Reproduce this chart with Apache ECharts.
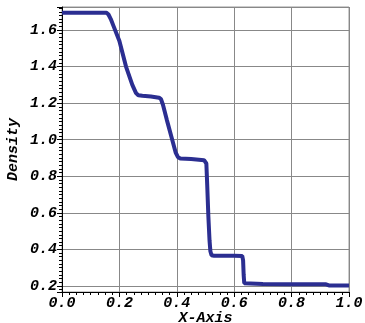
<!DOCTYPE html>
<html><head><meta charset="utf-8">
<script src="https://cdn.jsdelivr.net/npm/echarts@6/dist/echarts.min.js"></script>
<style>html,body{margin:0;padding:0;background:#fff}#c{width:365px;height:323px}</style>
</head><body><div id="c"></div>
<script>
const xValues = [0, 0.155, 0.162, 0.17, 0.18, 0.2, 0.223, 0.245, 0.258, 0.266, 0.28, 0.31, 0.338, 0.345, 0.352, 0.365, 0.384, 0.396, 0.404, 0.412, 0.45, 0.495, 0.503, 0.506, 0.51, 0.514, 0.517, 0.521, 0.53, 0.6, 0.628, 0.631, 0.633, 0.635, 0.64, 0.7, 0.8, 0.92, 0.93, 1.0];
const densityValues = [1.695, 1.695, 1.685, 1.66, 1.62, 1.54, 1.4, 1.3, 1.255, 1.243, 1.24, 1.236, 1.23, 1.222, 1.19, 1.11, 1.0, 0.93, 0.905, 0.897, 0.894, 0.888, 0.87, 0.75, 0.58, 0.45, 0.39, 0.368, 0.365, 0.365, 0.364, 0.34, 0.26, 0.215, 0.211, 0.211, 0.21, 0.209, 0.203, 0.202];
const xTickLabels = ['0.0','0.2','0.4','0.6','0.8','1.0'];
const yTickLabels = ['0.2','0.4','0.6','0.8','1.0','1.2','1.4','1.6'];

const fontFam = '"Liberation Mono", "DejaVu Sans Mono", monospace';
const chart = echarts.init(document.getElementById('c'), null, {renderer: 'canvas'});
chart.setOption({
  animation: false,
  grid: {left: 62, right: 16, top: 7, bottom: 31, show: true, borderColor: '#999', borderWidth: 1, containLabel: false, outerBoundsMode: 'none'},
  xAxis: {
    type: 'value', min: 0, max: 1, interval: 0.2,
    name: 'X-Axis', nameLocation: 'middle', nameGap: 19, nameMoveOverlap: false,
    nameTextStyle: {fontFamily: fontFam, fontStyle: 'italic', fontWeight: 'bold', fontSize: 15, color: '#000'},
    axisLine: {show: true, lineStyle: {color: '#000', width: 1}},
    axisTick: {show: true, inside: false, length: 5, lineStyle: {color: '#000'}},
    minorTick: {show: true, splitNumber: 8, length: 3, lineStyle: {color: '#000'}},
    axisLabel: {fontFamily: fontFam, fontStyle: 'italic', fontWeight: 'bold', fontSize: 15, color: '#000', margin: 4,
      formatter: v => xTickLabels[Math.round(v / 0.2)] || ''},
    splitLine: {show: true, lineStyle: {color: '#888', width: 1}}
  },
  yAxis: {
    type: 'value', min: 0.167, max: 1.726, splitNumber: 7, minInterval: 0.2, maxInterval: 0.2,
    name: 'Density', nameLocation: 'middle', nameGap: 41, nameRotate: 90, nameMoveOverlap: false,
    nameTextStyle: {fontFamily: fontFam, fontStyle: 'italic', fontWeight: 'bold', fontSize: 15, color: '#000'},
    axisLine: {show: true, lineStyle: {color: '#000', width: 1}},
    axisTick: {show: true, inside: false, length: 5, lineStyle: {color: '#000'}},
    minorTick: {show: true, splitNumber: 10, length: 3, lineStyle: {color: '#000'}},
    axisLabel: {fontFamily: fontFam, fontStyle: 'italic', fontWeight: 'bold', fontSize: 15, color: '#000', margin: 5,
      showMinLabel: false, showMaxLabel: false,
      formatter: v => { const i = Math.round((v - 0.2) / 0.2); return (Math.abs(v - (0.2 + i * 0.2)) < 1e-6) ? (yTickLabels[i] || '') : ''; }},
    splitLine: {show: true, lineStyle: {color: '#888', width: 1}}
  },
  series: [{
    type: 'line', showSymbol: false, symbol: 'none',
    data: xValues.map((x, i) => [x, densityValues[i]]),
    lineStyle: {color: '#2b2e91', width: 4},
    itemStyle: {color: '#2b2e91'}
  }]
});
</script></body></html>
